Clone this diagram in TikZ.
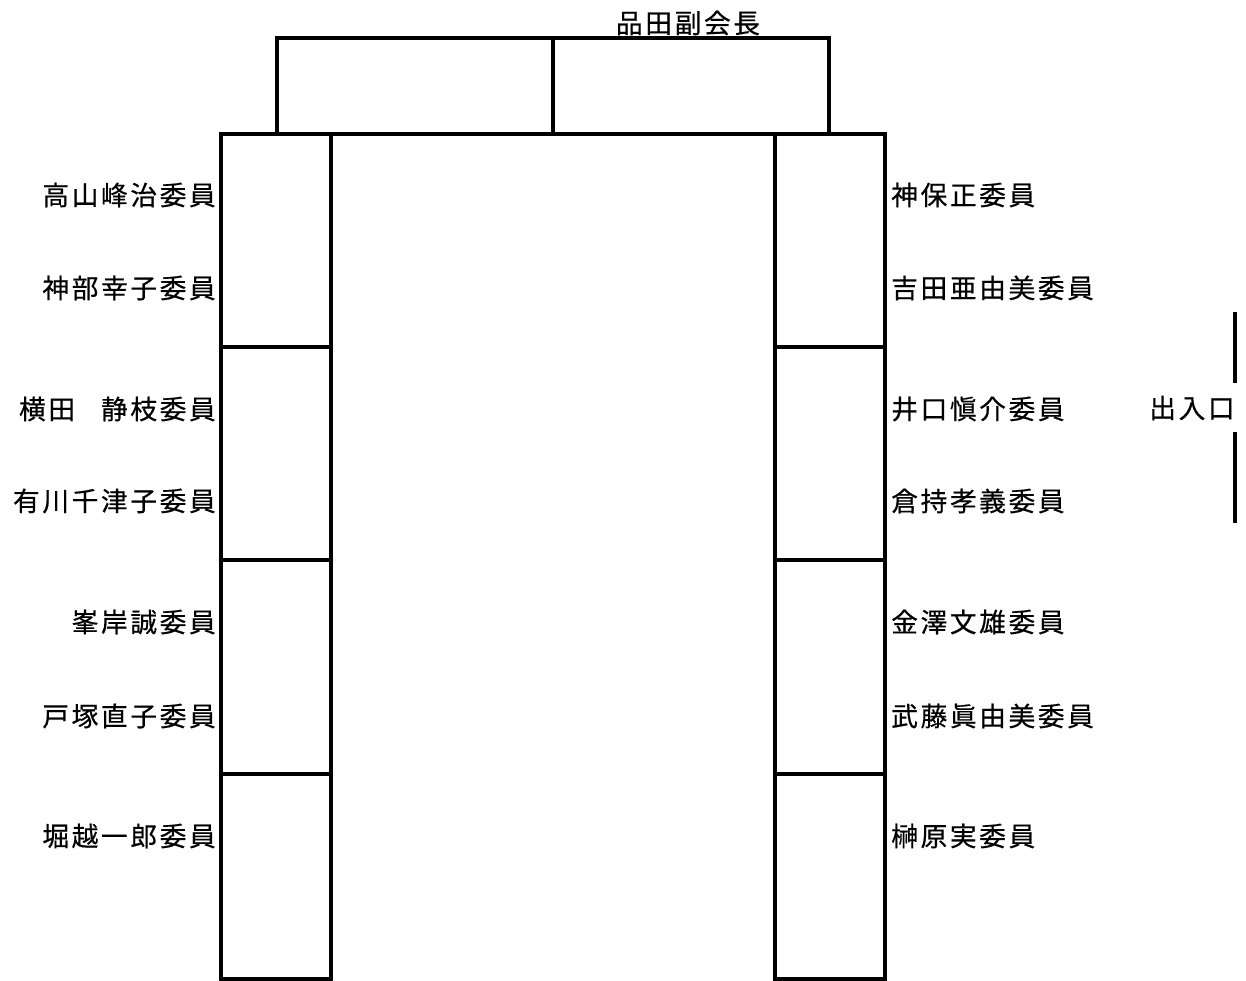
\documentclass[tikz,border=0pt]{standalone}
\usepackage{fontspec}
\newfontfamily\jpfont[LetterSpace=10, FakeBold=0.5]{Noto Sans CJK JP}
\usepackage{tikz}
\usetikzlibrary{positioning}

\begin{document}
\begin{tikzpicture}[
    x=0.75pt, y=-0.75pt,
    table/.style={draw=black, line width=2.6pt},
    member/.style={inner sep=0pt, font=\jpfont\fontsize{20}{24}\selectfont},
    leftname/.style={member, anchor=east},
    rightname/.style={member, anchor=west}
]
\useasboundingbox (0,0) rectangle (1246,981);

% Head table
\draw[table] (277,38) rectangle (829,134);
\draw[table] (553,38) -- (553,134);
\draw[table] (221,134) -- (885,134);

% Left tables
\draw[table] (221,134) rectangle (331,979);
\foreach \y in {347,560,774}
  \draw[table] (221,\y) -- (331,\y);

% Right tables
\draw[table] (775,134) rectangle (885,979);
\foreach \y in {347,560,774}
  \draw[table] (775,\y) -- (885,\y);

% Entrance
\draw[table] (1235,312) -- (1235,383);
\draw[table] (1235,432) -- (1235,523);
\node[member] (entrance) at (1192,408) {出入口};

% Head
\node[member] (head) at (688,23) {品田副会長};

% Left side members
\node[leftname] (takayama) at (216,195) {高山峰治委員};
\node[leftname] (kambe) at (216,288) {神部幸子委員};
\node[leftname] (yokota) at (216,409) {横田\hspace{19.5pt}静枝委員};
\node[leftname] (arikawa) at (216,501) {有川千津子委員};
\node[leftname] (minegishi) at (216,622) {峯岸誠委員};
\node[leftname] (tozuka) at (216,716) {戸塚直子委員};
\node[leftname] (horikoshi) at (216,836) {堀越一郎委員};

% Right side members
\node[rightname] (jimbo) at (891,195) {神保正委員};
\node[rightname] (yoshida) at (891,288) {吉田亜由美委員};
\node[rightname] (iguchi) at (891,409) {井口愼介委員};
\node[rightname] (kuramochi) at (891,501) {倉持孝義委員};
\node[rightname] (kanazawa) at (891,622) {金澤文雄委員};
\node[rightname] (muto) at (891,716) {武藤眞由美委員};
\node[rightname] (sakakibara) at (891,836) {榊原実委員};
\end{tikzpicture}
\end{document}
